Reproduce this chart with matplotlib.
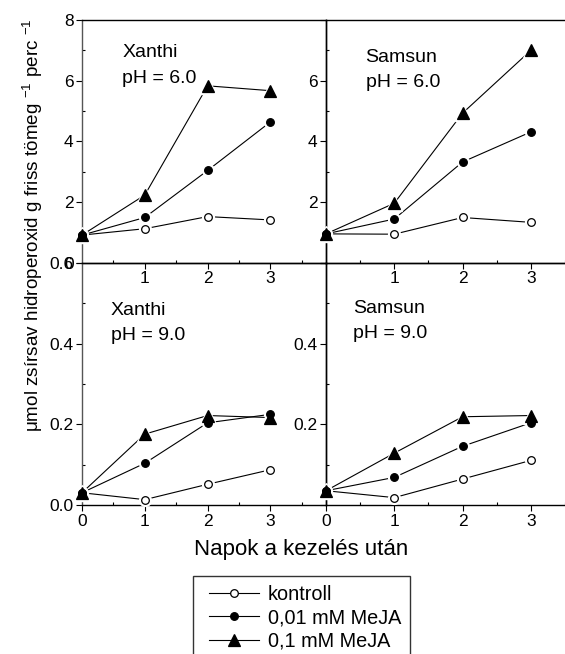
import matplotlib
matplotlib.use("Agg")
import matplotlib.pyplot as plt
from matplotlib.legend_handler import HandlerLine2D
from matplotlib.lines import Line2D

plt.rcParams["font.family"] = ["Liberation Sans", "DejaVu Sans"]
plt.rcParams["mathtext.fontset"] = "custom"
plt.rcParams["mathtext.rm"] = "Liberation Sans"

days = [0, 1, 2, 3]
series_labels = ["kontroll", "0,01 mM MeJA", "0,1 mM MeJA"]

# Xanthi, pH 6.0
xanthi_ph6 = {
    "kontroll": [0.91, 1.12, 1.52, 1.41],
    "0,01 mM MeJA": [0.91, 1.49, 3.04, 4.64],
    "0,1 mM MeJA": [0.91, 2.23, 5.83, 5.67],
}
# Samsun, pH 6.0
samsun_ph6 = {
    "kontroll": [0.95, 0.94, 1.49, 1.33],
    "0,01 mM MeJA": [0.95, 1.44, 3.32, 4.31],
    "0,1 mM MeJA": [0.95, 1.96, 4.93, 7.0],
}
# Xanthi, pH 9.0
xanthi_ph9 = {
    "kontroll": [0.031, 0.014, 0.052, 0.088],
    "0,01 mM MeJA": [0.031, 0.104, 0.204, 0.225],
    "0,1 mM MeJA": [0.031, 0.176, 0.222, 0.217],
}
# Samsun, pH 9.0
samsun_ph9 = {
    "kontroll": [0.036, 0.019, 0.065, 0.111],
    "0,01 mM MeJA": [0.036, 0.069, 0.146, 0.204],
    "0,1 mM MeJA": [0.036, 0.129, 0.219, 0.222],
}

styles = {
    "kontroll": dict(marker="o", mfc="white", ms=5.5),
    "0,01 mM MeJA": dict(marker="o", mfc="black", ms=5.5),
    "0,1 mM MeJA": dict(marker="^", mfc="black", ms=9),
}

W, H = 565, 654
fig = plt.figure(figsize=(W / 100, H / 100), dpi=100)


def px_axes(x0, x1, y0, y1):
    # y0/y1 measured from the top of the picture
    return fig.add_axes([x0 / W, 1 - y1 / H, (x1 - x0) / W, (y1 - y0) / H])


ax_tl = px_axes(82, 326, 20, 262.7)
ax_tr = px_axes(326, 565, 20, 262.7)
ax_bl = px_axes(82, 326, 262.7, 505.3)
ax_br = px_axes(326, 565, 262.7, 505.3)

panels = [
    (ax_tl, xanthi_ph6, 244 / 62.8, (0, 8), "Xanthi", "pH = 6.0", (0.64, 6.79, 5.93)),
    (ax_tr, samsun_ph6, 239 / 69.7, (0, 8), "Samsun", "pH = 6.0", (0.58, 6.63, 5.79)),
    (ax_bl, xanthi_ph9, 244 / 62.8, (0, 0.6), "Xanthi", "pH = 9.0", (0.46, 0.471, 0.409)),
    (ax_br, samsun_ph9, 239 / 69.7, (0, 0.6), "Samsun", "pH = 9.0", (0.40, 0.475, 0.413)),
]

for ax, data, xmax, ylim, name, ph, (tx, ty1, ty2) in panels:
    for lab in series_labels:
        st = styles[lab]
        ax.plot(days, data[lab], color="black", lw=0.8, zorder=2, clip_on=False)
        # white halo so the line stops short of the marker
        ax.plot(days, data[lab], ls="none", marker=st["marker"], ms=st["ms"] + 3,
                mfc="white", mec="white", zorder=3, clip_on=False)
        ax.plot(days, data[lab], ls="none", marker=st["marker"], ms=st["ms"],
                mfc=st["mfc"], mec="black", mew=0.9, zorder=4, clip_on=False)
    ax.set_xlim(0, xmax)
    ax.set_ylim(*ylim)
    ax.text(tx, ty1, name, fontsize=14, va="baseline")
    ax.text(tx, ty2, ph, fontsize=14, va="baseline")
    ax.set_xticks([0.5, 1.5, 2.5, 3.5], minor=True)
    ax.tick_params(which="major", direction="out", length=4, width=0.8, labelsize=12.5, pad=2)
    ax.tick_params(which="minor", direction="in", length=2.5, width=0.8)
    for sp in ax.spines.values():
        sp.set_linewidth(1.0)
    ax.patch.set_alpha(0)

for ax in (ax_tr, ax_br):
    ax.spines["right"].set_visible(False)

# top row
for ax in (ax_tl, ax_tr):
    ax.set_xticks([1, 2, 3])
    ax.set_yticks([0, 2, 4, 6, 8])
    ax.set_yticks([1, 3, 5, 7], minor=True)
ax_tl.set_yticklabels(["0", "2", "4", "6", "8"])
ax_tr.set_yticklabels(["", "2", "4", "6", ""])

# bottom row
for ax in (ax_bl, ax_br):
    ax.set_xticks([0, 1, 2, 3])
    ax.set_yticks([0, 0.2, 0.4, 0.6])
    ax.set_yticks([0.1, 0.3, 0.5], minor=True)
ax_bl.set_yticklabels(["0.0", "0.2", "0.4", "0.6"])
ax_br.set_yticklabels(["", "0.2", "0.4", ""])

for ax in (ax_tl, ax_bl):
    ax.spines["left"].set_color("#555555")

fig.text(33 / W, 1 - 225 / H,
         "\u03bcmol zsírsav hidroperoxid g friss tömeg $^{-1}$ perc $^{-1}$",
         rotation=90, ha="center", va="center", fontsize=13.6)
fig.text(301 / W, 1 - 550 / H, "Napok a kezelés után", ha="center", va="center", fontsize=16)

handles = [
    Line2D([], [], color="black", lw=0.8, marker=styles[lab]["marker"],
           ms=styles[lab]["ms"], mfc=styles[lab]["mfc"], mec="black", mew=0.9)
    for lab in series_labels
]
leg = fig.legend(handles, series_labels, loc="upper left",
                 bbox_to_anchor=(192.7 / W, 1 - 576 / H), frameon=True, fancybox=False,
                 edgecolor="black", fontsize=14.3, handlelength=2.88, handletextpad=0.45,
                 labelspacing=0.22, borderpad=0.45, borderaxespad=0,
                 handler_map={Line2D: HandlerLine2D(xpad=0.35)})
leg.get_frame().set_linewidth(1.0)

fig.savefig("out.png", dpi=100)
